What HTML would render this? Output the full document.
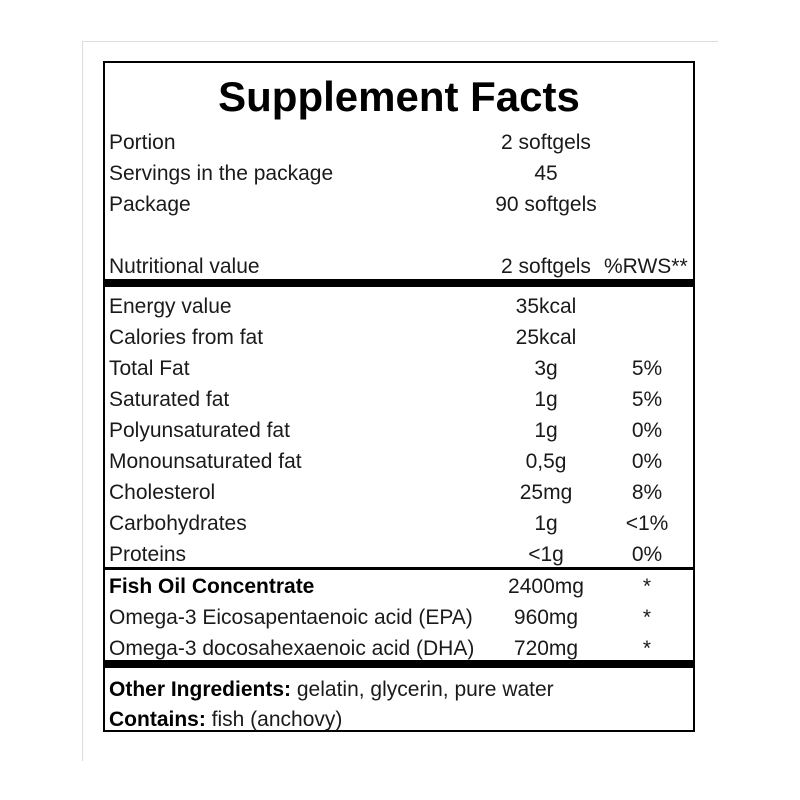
<!DOCTYPE html><html><head><style>
body{margin:0;background:#fff;width:800px;height:800px;position:relative;overflow:hidden;font-family:"Liberation Sans",sans-serif;color:#1a1a1a}
.g1{position:absolute;left:82px;top:41px;width:636px;height:1px;background:#ddd}
.g2{position:absolute;left:82px;top:41px;width:1px;height:720px;background:#ddd}
.box{position:absolute;left:103px;top:61px;width:588px;height:667px;border:2px solid #000}
.t{position:absolute;font-size:21px;line-height:24px;height:24px;white-space:nowrap}
.l{left:109px}
.v{width:120px;left:486px;text-align:center}
.p{width:80px;left:607px;text-align:center}
.bar{position:absolute;left:103px;width:592px;background:#000}
h1{position:absolute;left:103px;width:592px;top:70px;margin:0;text-align:center;font-size:42px;line-height:54px;color:#000;font-weight:bold}
b{color:#000}
</style></head><body>
<div class="g1"></div><div class="g2"></div>
<div class="box"></div>
<h1>Supplement Facts</h1>
<div class="bar" style="top:279px;height:8px"></div>
<div class="bar" style="top:567px;height:3px"></div>
<div class="bar" style="top:660px;height:8px"></div>

<div class="t l" style="top:131px">Portion</div><div class="t v" style="top:131px">2 softgels</div>
<div class="t l" style="top:162px">Servings in the package</div><div class="t v" style="top:162px">45</div>
<div class="t l" style="top:193px">Package</div><div class="t v" style="top:193px">90 softgels</div>
<div class="t l" style="top:255px">Nutritional value</div><div class="t v" style="top:255px">2 softgels</div><div class="t p" style="top:255px;left:604px">%RWS**</div>

<div class="t l" style="top:295px">Energy value</div><div class="t v" style="top:295px">35kcal</div>
<div class="t l" style="top:326px">Calories from fat</div><div class="t v" style="top:326px">25kcal</div>
<div class="t l" style="top:357px">Total Fat</div><div class="t v" style="top:357px">3g</div><div class="t p" style="top:357px">5%</div>
<div class="t l" style="top:388px">Saturated fat</div><div class="t v" style="top:388px">1g</div><div class="t p" style="top:388px">5%</div>
<div class="t l" style="top:419px">Polyunsaturated fat</div><div class="t v" style="top:419px">1g</div><div class="t p" style="top:419px">0%</div>
<div class="t l" style="top:450px">Monounsaturated fat</div><div class="t v" style="top:450px">0,5g</div><div class="t p" style="top:450px">0%</div>
<div class="t l" style="top:481px">Cholesterol</div><div class="t v" style="top:481px">25mg</div><div class="t p" style="top:481px">8%</div>
<div class="t l" style="top:512px">Carbohydrates</div><div class="t v" style="top:512px">1g</div><div class="t p" style="top:512px">&lt;1%</div>
<div class="t l" style="top:543px">Proteins</div><div class="t v" style="top:543px">&lt;1g</div><div class="t p" style="top:543px">0%</div>

<div class="t l" style="top:575px"><b>Fish Oil Concentrate</b></div><div class="t v" style="top:575px">2400mg</div><div class="t p" style="top:575px">*</div>
<div class="t l" style="top:606px">Omega-3 Eicosapentaenoic acid (EPA)</div><div class="t v" style="top:606px">960mg</div><div class="t p" style="top:606px">*</div>
<div class="t l" style="top:637px">Omega-3 docosahexaenoic acid (DHA)</div><div class="t v" style="top:637px">720mg</div><div class="t p" style="top:637px">*</div>

<div class="t l" style="top:678px"><b>Other Ingredients:</b> gelatin, glycerin, pure water</div>
<div class="t l" style="top:708px"><b>Contains:</b> fish (anchovy)</div>
</body></html>
